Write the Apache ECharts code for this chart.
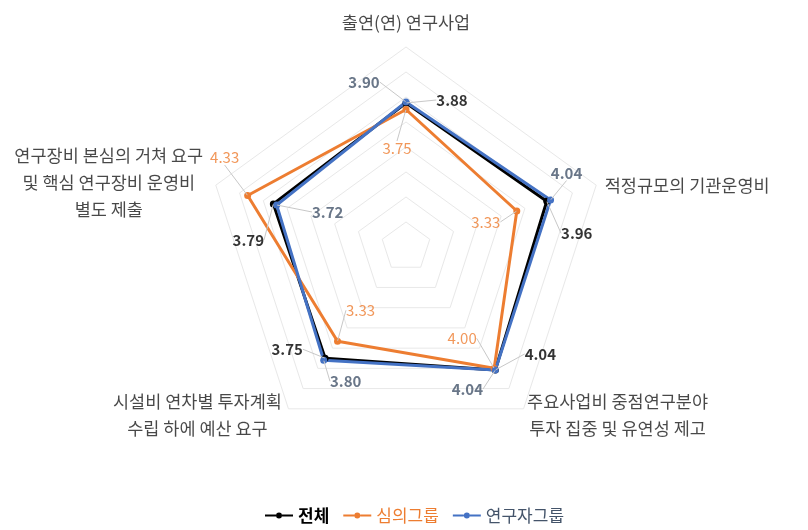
<!DOCTYPE html>
<html><head><meta charset="utf-8">
<script src="https://cdn.jsdelivr.net/npm/echarts@6/dist/echarts.min.js"></script>
<style>html,body{margin:0;padding:0;background:#fff}#c{width:808px;height:530px}</style>
</head><body><div id="c"></div>
<script>
// ---- data ----
const categories = [
  '출연(연) 연구사업',
  '적정규모의 기관운영비',
  '주요사업비 중점연구분야\n투자 집중 및 유연성 제고',
  '시설비 연차별 투자계획\n수립 하에 예산 요구',
  '연구장비 본심의 거쳐 요구\n및 핵심 연구장비 운영비\n별도 제출'
];
const seriesNames = ['전체', '심의그룹', '연구자그룹'];
const totalValues = [3.88, 3.96, 4.04, 3.75, 3.79];
const reviewValues = [3.75, 3.33, 4.00, 3.33, 4.33];
const researcherValues = [3.90, 4.04, 4.04, 3.80, 3.72];
const scaleMin = 1, scaleMax = 5, scaleSplits = 8;

// ---- styling ----
const FONT = "'Noto Sans CJK KR', 'Noto Sans', sans-serif";
const lineColors = ['#000000', '#ED7D31', '#4472C4'];
const labelColors = ['#000000', '#ED7D31', '#44546A'];
const labelWeights = ['bold', 'normal', 'bold'];
const CENTER = [406, 247], RADIUS = 200;
// label offsets (dx, dy) from each point, per series, in category order
const labelOffsets = [
  [[46, -3], [30, 32], [45, -16], [-38, -9], [-25, 36]],
  [[-9, 39], [-31, 11], [-32, -30], [23, -31], [-23, -38]],
  [[-42, -20], [16, -27], [-28, 19], [22, 21], [51, 7]]
];
const catOffsets = [[0, -25], [91, 0], [94, 6], [-91, 6], [-107, -3]];

const allValues = [totalValues, reviewValues, researcherValues];
// ECharts radar runs counter-clockwise; reference runs clockwise
const order = [0, 4, 3, 2, 1];
const step = 360 / categories.length;

const labelSeries = allValues.map((vals, s) => ({
  type: 'scatter', coordinateSystem: 'polar', name: 'lbl' + s,
  symbolSize: 1, itemStyle: { color: 'rgba(0,0,0,0)' }, silent: true, z: 10,
  data: vals.map((v, i) => [v, i * step]),
  label: {
    show: true, position: 'inside', color: labelColors[s], fontWeight: labelWeights[s],
    fontSize: 15, fontFamily: FONT,
    formatter: p => p.value[0].toFixed(2)
  },
  labelLine: { show: true, lineStyle: { color: '#c8c8c8', width: 1 } },
  labelLayout: p => ({ dx: labelOffsets[s][p.dataIndex][0], dy: labelOffsets[s][p.dataIndex][1] })
}));

const catSeries = {
  type: 'scatter', coordinateSystem: 'polar', name: 'cats',
  symbolSize: 1, itemStyle: { color: 'rgba(0,0,0,0)' }, silent: true,
  data: categories.map((c, i) => [scaleMax, i * step]),
  label: {
    show: true, position: 'inside',
    formatter: p => categories[p.dataIndex].split('\n').map(l => '{t|' + l + '}').join('\n'),
    rich: { t: { width: 240, align: 'center', lineHeight: 27, fontSize: 17.5, color: '#1a1a1a', fontFamily: FONT } }
  },
  labelLayout: p => ({ dx: catOffsets[p.dataIndex][0], dy: catOffsets[p.dataIndex][1] })
};

const option = {
  animation: false,
  backgroundColor: '#ffffff',
  radar: {
    center: CENTER, radius: RADIUS, startAngle: 90, shape: 'polygon', splitNumber: scaleSplits,
    indicator: order.map(i => ({ name: categories[i], min: scaleMin, max: scaleMax })),
    axisName: { show: false },
    axisLine: { show: false }, axisTick: { show: false }, axisLabel: { show: false },
    splitLine: { lineStyle: { color: '#e8e8e8', width: 1 } },
    splitArea: { show: false }
  },
  polar: { center: CENTER, radius: RADIUS },
  angleAxis: { type: 'value', min: 0, max: 360, startAngle: 90, clockwise: true, show: false },
  radiusAxis: { type: 'value', min: scaleMin, max: scaleMax, show: false },
  legend: {
    left: 260, top: 502, itemWidth: 28, itemHeight: 6, itemGap: 14,
    icon: 'path://M0,4 L11,4 L11,6 L0,6 Z M17,4 L28,4 L28,6 L17,6 Z M11,5 A3,3 0 1,0 17,5 A3,3 0 1,0 11,5 Z',
    textStyle: { fontSize: 17, fontFamily: FONT },
    data: seriesNames.map((n, s) => ({ name: n, textStyle: { color: labelColors[s], fontWeight: s === 0 ? 'bold' : 'normal' } }))
  },
  series: [
    {
      type: 'radar', symbol: 'circle', symbolSize: 7,
      data: allValues.map((vals, s) => ({
        name: seriesNames[s],
        value: order.map(i => vals[i]),
        itemStyle: { color: lineColors[s] },
        lineStyle: { color: lineColors[s], width: 3 }
      }))
    },
    ...labelSeries,
    catSeries
  ]
};
const chart = echarts.init(document.getElementById('c'), null, { renderer: 'canvas' });
chart.setOption(option);
</script></body></html>
